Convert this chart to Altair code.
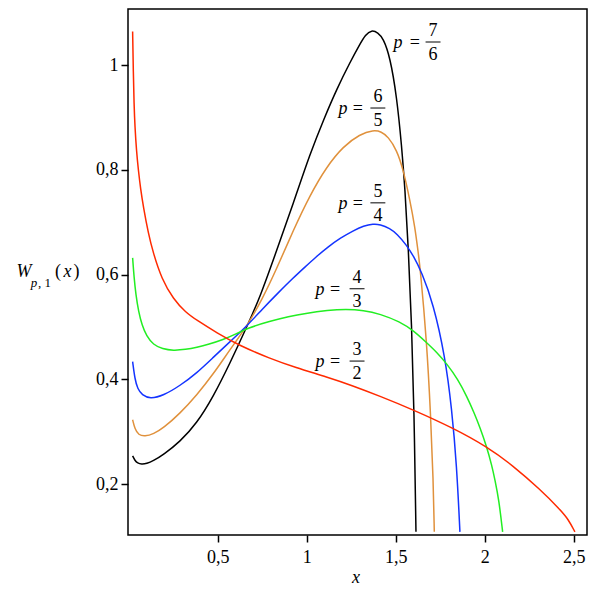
import altair as alt
import pandas as pd

# ---- curve data ----
black_x = [0.022, 0.035, 0.05, 0.072, 0.10, 0.14, 0.194, 0.288, 0.382, 0.475, 0.569, 0.667, 0.738, 0.83, 0.925, 1.019, 1.10, 1.17, 1.243, 1.299, 1.33, 1.365, 1.40, 1.430, 1.468, 1.506, 1.534, 1.552, 1.571, 1.590, 1.603, 1.614]
black_y = [0.254, 0.245, 0.240, 0.238, 0.239, 0.245, 0.256, 0.281, 0.316, 0.367, 0.431, 0.503, 0.557, 0.645, 0.736, 0.831, 0.900, 0.955, 1.005, 1.040, 1.058, 1.067, 1.062, 1.051, 1.016, 0.940, 0.844, 0.765, 0.653, 0.501, 0.348, 0.109]

orange_x = [0.022, 0.035, 0.055, 0.09, 0.14, 0.194, 0.288, 0.382, 0.475, 0.569, 0.667, 0.75, 0.83, 0.925, 1.019, 1.112, 1.206, 1.299, 1.374, 1.42, 1.458, 1.506, 1.543, 1.580, 1.608, 1.627, 1.637, 1.674, 1.697, 1.711, 1.717]
orange_y = [0.323, 0.305, 0.294, 0.291, 0.296, 0.307, 0.335, 0.370, 0.410, 0.457, 0.503, 0.553, 0.610, 0.685, 0.752, 0.806, 0.845, 0.868, 0.876, 0.873, 0.863, 0.838, 0.800, 0.742, 0.691, 0.641, 0.615, 0.475, 0.329, 0.208, 0.109]

blue_x = [0.022, 0.035, 0.05, 0.075, 0.12, 0.194, 0.288, 0.382, 0.475, 0.569, 0.667, 0.75, 0.839, 0.925, 0.989, 1.05, 1.12, 1.19, 1.262, 1.32, 1.374, 1.412, 1.468, 1.506, 1.562, 1.599, 1.646, 1.711, 1.777, 1.815, 1.843, 1.861]
blue_y = [0.434, 0.400, 0.382, 0.370, 0.363, 0.369, 0.388, 0.412, 0.442, 0.472, 0.503, 0.534, 0.565, 0.594, 0.614, 0.633, 0.653, 0.670, 0.684, 0.693, 0.697, 0.696, 0.688, 0.678, 0.656, 0.636, 0.605, 0.545, 0.445, 0.345, 0.235, 0.109]

green_x = [0.022, 0.030, 0.040, 0.055, 0.075, 0.10, 0.138, 0.19, 0.251, 0.32, 0.382, 0.45, 0.531, 0.60, 0.667, 0.794, 0.9, 0.989, 1.12, 1.22, 1.32, 1.412, 1.524, 1.60, 1.674, 1.73, 1.787, 1.85, 1.899, 1.94, 1.974, 2.011, 2.04, 2.058, 2.08, 2.101]
green_y = [0.632, 0.595, 0.562, 0.530, 0.503, 0.483, 0.466, 0.458, 0.455, 0.457, 0.461, 0.467, 0.476, 0.486, 0.498, 0.511, 0.520, 0.526, 0.532, 0.534, 0.532, 0.525, 0.510, 0.493, 0.470, 0.452, 0.430, 0.400, 0.368, 0.337, 0.308, 0.272, 0.236, 0.208, 0.170, 0.109]

red_x = [0.022, 0.026, 0.030, 0.035, 0.044, 0.054, 0.067, 0.082, 0.110, 0.138, 0.185, 0.251, 0.32, 0.382, 0.494, 0.625, 0.794, 0.933, 1.12, 1.25, 1.412, 1.599, 1.824, 2.011, 2.161, 2.311, 2.423, 2.47, 2.507]
red_y = [1.064, 0.985, 0.925, 0.882, 0.835, 0.800, 0.763, 0.730, 0.679, 0.641, 0.592, 0.553, 0.528, 0.513, 0.489, 0.464, 0.440, 0.423, 0.404, 0.389, 0.368, 0.342, 0.307, 0.272, 0.235, 0.190, 0.152, 0.133, 0.109]

series_names = ["7/6", "6/5", "5/4", "4/3", "3/2"]
series_colors = ["#000000", "#E0913C", "#1434FF", "#22EE22", "#FF2A00"]
series_xy = [(black_x, black_y), (orange_x, orange_y), (blue_x, blue_y),
             (green_x, green_y), (red_x, red_y)]

# curve labels p = num/den
lab_num = ["7", "6", "5", "4", "3"]
lab_den = ["6", "5", "4", "3", "2"]
lab_px = [1.513, 1.204, 1.204, 1.075, 1.075]
lab_eqx = [1.608, 1.288, 1.288, 1.159, 1.159]
lab_fx = [1.710, 1.400, 1.400, 1.283, 1.283]
lab_bary = [1.044, 0.918, 0.737, 0.573, 0.435]

x_ticks = [0.5, 1, 1.5, 2, 2.5]
y_ticks = [0.2, 0.4, 0.6, 0.8, 1]

rows = []
for name, (xs, ys) in zip(series_names, series_xy):
    for a, b in zip(xs, ys):
        rows.append({"p": name, "x": a, "y": b})
df = pd.DataFrame(rows)

labels = pd.DataFrame({
    "num": lab_num, "den": lab_den, "px": lab_px, "eqx": lab_eqx,
    "fx": lab_fx, "bary": lab_bary,
})
labels["fx0"] = labels["fx"] - 0.042
labels["fx1"] = labels["fx"] + 0.042

FONT = "Times New Roman, Liberation Serif, serif"
comma = "replace(toString(datum.value), '.', ',')"

xscale = alt.Scale(domain=[-0.004, 2.575], nice=False, zero=False)
yscale = alt.Scale(domain=[0.103, 1.107], nice=False, zero=False)

axis_common = dict(title=None, grid=False, domain=False, tickSize=7, tickWidth=1.5,
                   tickColor="black", labelFont=FONT, labelFontSize=18,
                   labelColor="black", labelFlush=False, labelOverlap=False,
                   labelExpr=comma)
x_axis = alt.Axis(values=x_ticks, labelPadding=6, **axis_common)
y_axis = alt.Axis(values=y_ticks, labelPadding=3, **axis_common)


def XQ(f):
    return alt.X(f, scale=xscale, axis=x_axis, title=None)


def YQ(f):
    return alt.Y(f, scale=yscale, axis=y_axis, title=None)


lines = alt.Chart(df).mark_line(strokeWidth=1.5, interpolate="basis", clip=True).encode(
    x=XQ("x:Q"), y=YQ("y:Q"),
    color=alt.Color("p:N", scale=alt.Scale(domain=series_names, range=series_colors), legend=None),
    detail="p:N",
)

lab = alt.Chart(labels)
p_txt = lab.mark_text(font=FONT, fontSize=18, fontStyle="italic", baseline="middle", dy=1,
                      color="black").encode(x=XQ("px:Q"), y=YQ("bary:Q"), text=alt.value("p"))
eq_txt = lab.mark_text(font=FONT, fontSize=18, baseline="middle", dy=1,
                       color="black").encode(x=XQ("eqx:Q"), y=YQ("bary:Q"), text=alt.value("="))
num_txt = lab.mark_text(font=FONT, fontSize=18, baseline="middle", dy=-11,
                        color="black").encode(x=XQ("fx:Q"), y=YQ("bary:Q"), text="num:N")
den_txt = lab.mark_text(font=FONT, fontSize=18, baseline="middle", dy=13,
                        color="black").encode(x=XQ("fx:Q"), y=YQ("bary:Q"), text="den:N")
bars = lab.mark_rule(color="black", strokeWidth=1).encode(
    x=XQ("fx0:Q"), x2="fx1:Q", y=YQ("bary:Q"))

one = pd.DataFrame({"k": [0]})


def txt(s, x, y, size=18, style="normal", align="center"):
    return alt.Chart(one).mark_text(text=s, font=FONT, fontSize=size, fontStyle=style,
                                    align=align, baseline="alphabetic", color="black").encode(
        x=alt.value(x), y=alt.value(y))


titles = [
    txt("W", -104, 268, style="italic"),
    txt("p", -94, 278, size=13, style="italic"),
    txt(", 1", -90, 278, size=13, align="left"),
    txt("(", -70, 268),
    txt("x", -60.5, 268, style="italic"),
    txt(")", -51.5, 268),
    txt("x", 228, 574, style="italic"),
]

chart = alt.layer(lines, bars, p_txt, eq_txt, num_txt, den_txt, *titles).properties(
    width=459, height=526,
    padding={"left": 120, "top": 1, "right": 1, "bottom": 56},
    autosize=alt.AutoSizeParams(type="none"),
).configure(background="white").configure_view(stroke="black", strokeWidth=1.5)

chart.save("out.html", embed_options={"renderer": "svg", "actions": False})
